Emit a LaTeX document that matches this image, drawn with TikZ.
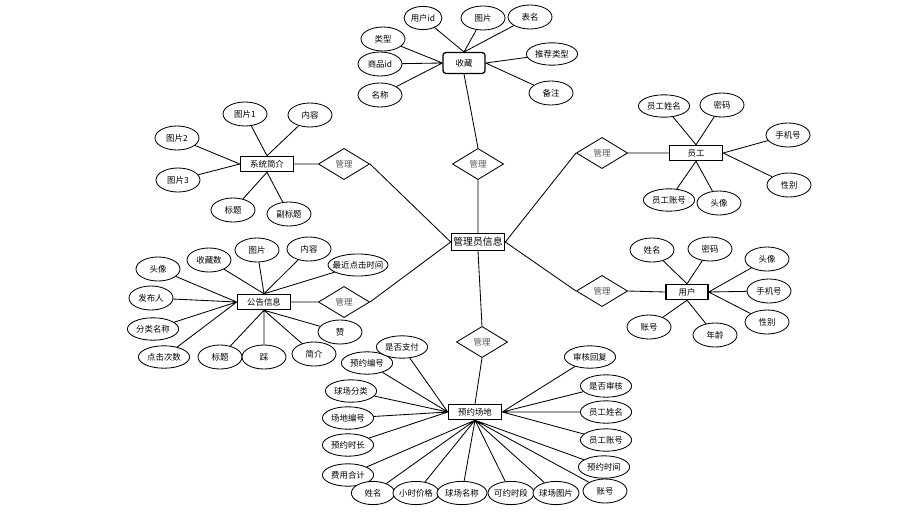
\documentclass[tikz,border=0pt]{standalone}
\usepackage{fontspec}
\newfontfamily\cjk{Noto Sans CJK SC}
\usepackage{tikz}
\usetikzlibrary{shapes.geometric}
\definecolor{relgray}{RGB}{85, 85, 85}

\begin{document}
\begin{tikzpicture}[
  x=0.025cm, y=-0.025cm,
  ent/.style={rectangle, draw, line width=0.9pt, fill=white, minimum width=1.33cm,
              minimum height=0.38cm, inner sep=1pt, font=\cjk\fontsize{6}{7}\selectfont},
  attr/.style={ellipse, draw, line width=0.6pt, fill=white, minimum width=1.1cm,
               minimum height=0.6cm, inner sep=0pt, font=\cjk\fontsize{6}{7}\selectfont},
  wattr/.style={attr, minimum width=1.28cm, minimum height=0.56cm},
  battr/.style={attr, minimum width=1.15cm, minimum height=0.58cm, inner xsep=-1.5pt},
  rel/.style={diamond, draw, line width=0.6pt, fill=white, minimum width=1.28cm,
              minimum height=0.78cm, inner sep=0pt, text=relgray, font=\cjk\fontsize{6}{7}\selectfont},
  link/.style={line width=0.6pt}
]
\useasboundingbox (0,0) rectangle (911,519);

% Center entity
\node[ent, line width=1pt, minimum height=0.42cm, font=\cjk\fontsize{7}{8}\selectfont] (admin) at (478,242) {管理员信息};

% Favorites
\node[ent, rounded corners=2pt, minimum width=1.05cm, minimum height=0.52cm] (fav) at (464,63) {收藏};
\node[attr, minimum width=0.95cm, minimum height=0.58cm] (favUid) at (423,18) {用户id};
\node[attr] (favImg) at (483,18) {图片};
\node[attr] (favTbl) at (530,17) {表名};
\node[attr] (favType) at (383,39) {类型};
\node[attr] (favGid) at (380,64) {商品id};
\node[attr] (favName) at (380,95) {名称};
\node[wattr] (favRec) at (552,54) {推荐类型};
\node[attr] (favNote) at (551,93) {备注};
\node[rel] (mFav) at (478,164) {管理};

% System intro
\node[ent] (intro) at (267,164) {系统简介};
\node[attr] (introImg1) at (245,114) {图片1};
\node[attr] (introTxt) at (310,115) {内容};
\node[attr] (introImg2) at (177,138) {图片2};
\node[attr] (introImg3) at (178,180) {图片3};
\node[attr] (introTitle) at (233,210) {标题};
\node[attr] (introSub) at (289,214) {副标题};
\node[rel] (mIntro) at (344,164) {管理};

% Staff
\node[ent] (staff) at (696,153) {员工};
\node[wattr] (staffName) at (664,106) {员工姓名};
\node[attr] (staffPwd) at (722,105) {密码};
\node[attr] (staffTel) at (788,135) {手机号};
\node[attr] (staffSex) at (789,185) {性别};
\node[wattr] (staffAcc) at (669,200) {员工账号};
\node[attr] (staffPic) at (719,203) {头像};
\node[rel] (mStaff) at (602,153) {管理};

% User
\node[ent, minimum width=1.05cm] (user) at (687,292) {用户};
\node[attr] (userName) at (652,250) {姓名};
\node[attr] (userPwd) at (710,249) {密码};
\node[attr] (userPic) at (767,259) {头像};
\node[attr] (userTel) at (769,291) {手机号};
\node[attr] (userSex) at (767,322) {性别};
\node[attr] (userAcc) at (649,327) {账号};
\node[attr] (userAge) at (715,335) {年龄};
\node[rel] (mUser) at (602,291) {管理};

% Notice
\node[ent] (notice) at (264,302) {公告信息};
\node[attr] (ntFav) at (209,260) {收藏数};
\node[attr] (ntImg) at (257,250) {图片};
\node[attr] (ntTxt) at (309,249) {内容};
\node[attr, minimum width=1.5cm, minimum height=0.55cm, inner xsep=-3pt] (ntLast) at (358,265) {最近点击时间};
\node[attr] (ntPic) at (158,269) {头像};
\node[attr] (ntAuthor) at (151,298) {发布人};
\node[wattr] (ntCat) at (153,329) {分类名称};
\node[wattr] (ntClick) at (164,357) {点击次数};
\node[attr] (ntTitle) at (220,357) {标题};
\node[attr] (ntDown) at (264,357) {踩};
\node[attr] (ntBrief) at (314,354) {简介};
\node[attr] (ntUp) at (340,332) {赞};
\node[rel] (mNotice) at (344,302) {管理};

% Booking
\node[ent] (book) at (475,412) {预约场地};
\node[rel] (mBook) at (482,342) {管理};
\node[wattr] (bkNo) at (367,363) {预约编号};
\node[wattr] (bkPaid) at (402,347) {是否支付};
\node[wattr] (bkCat) at (351,391) {球场分类};
\node[wattr] (bkSite) at (348,418) {场地编号};
\node[wattr] (bkLen) at (348,445) {预约时长};
\node[wattr] (bkFee) at (348,475) {费用合计};
\node[attr, minimum width=1.08cm, minimum height=0.58cm] (bkName) at (373,493) {姓名};
\node[battr] (bkPrice) at (416,493) {小时价格};
\node[battr, minimum width=1.25cm] (bkCourt) at (462,493) {球场名称};
\node[battr] (bkSlot) at (511,493) {可约时段};
\node[battr] (bkImg) at (556,493) {球场图片};
\node[wattr] (bkTime) at (604,467) {预约时间};
\node[attr] (bkAcc) at (605,491) {账号};
\node[wattr] (bkStAcc) at (606,440) {员工账号};
\node[wattr] (bkStName) at (606,412) {员工姓名};
\node[wattr] (bkAudit) at (606,386) {是否审核};
\node[wattr] (bkReply) at (590,357) {审核回复};

% Attribute links
\draw[link] (fav.north) -- (favUid) (fav.north) -- (favImg) (fav.north) -- (favTbl);
\draw[link] (fav.west) -- (favType) (fav.west) -- (favGid) (fav.west) -- (favName);
\draw[link] (fav.east) -- (favRec) (fav.east) -- (favNote);

\draw[link] (intro.north) -- (introImg1) (intro.north) -- (introTxt);
\draw[link] (intro.west) -- (introImg2) (intro.west) -- (introImg3);
\draw[link] (intro.south) -- (introTitle) (intro.south) -- (introSub);

\draw[link] (staff.north) -- (staffName) (staff.north) -- (staffPwd);
\draw[link] (staff.east) -- (staffTel) (staff.east) -- (staffSex);
\draw[link] (staff.south) -- (staffAcc) (staff.south) -- (staffPic);

\draw[link] (user.north) -- (userName) (user.north) -- (userPwd);
\draw[link] (user.east) -- (userPic) (user.east) -- (userTel) (user.east) -- (userSex);
\draw[link] (user.south) -- (userAcc) (user.south) -- (userAge);

\draw[link] (notice.north) -- (ntFav) (notice.north) -- (ntImg) (notice.north) -- (ntTxt) (notice.north) -- (ntLast);
\draw[link] (notice.west) -- (ntPic) (notice.west) -- (ntAuthor) (notice.west) -- (ntCat) (notice.west) -- (ntClick);
\draw[link] (notice.south) -- (ntTitle) (notice.south) -- (ntDown) (notice.south) -- (ntBrief) (notice.south) -- (ntUp);

\draw[link] (book.west) -- (bkPaid) (book.west) -- (bkNo) (book.west) -- (bkCat)
            (book.west) -- (bkSite) (book.west) -- (bkLen);
\draw[link] (book.south) -- (bkFee) (book.south) -- (bkName) (book.south) -- (bkPrice)
            (book.south) -- (bkCourt) (book.south) -- (bkSlot) (book.south) -- (bkImg)
            (book.south) -- (bkAcc) (book.south) -- (bkTime);
\draw[link] (book.east) -- (bkStAcc) (book.east) -- (bkStName) (book.east) -- (bkAudit)
            (book.east) -- (bkReply);

% Relationship links
\draw[link] (fav.south) -- (mFav.north) (mFav.south) -- (admin.north);
\draw[link] (intro.east) -- (mIntro.west) (mIntro.east) -- (admin.west);
\draw[link] (notice.east) -- (mNotice.west) (mNotice.east) -- (admin.west);
\draw[link] (admin.east) -- (mStaff.west) (mStaff.east) -- (staff.west);
\draw[link] (admin.east) -- (mUser.west) (mUser.east) -- (user.west);
\draw[link] (admin.south) -- (mBook.north) (mBook.south) -- (book.north);

\end{tikzpicture}
\end{document}
